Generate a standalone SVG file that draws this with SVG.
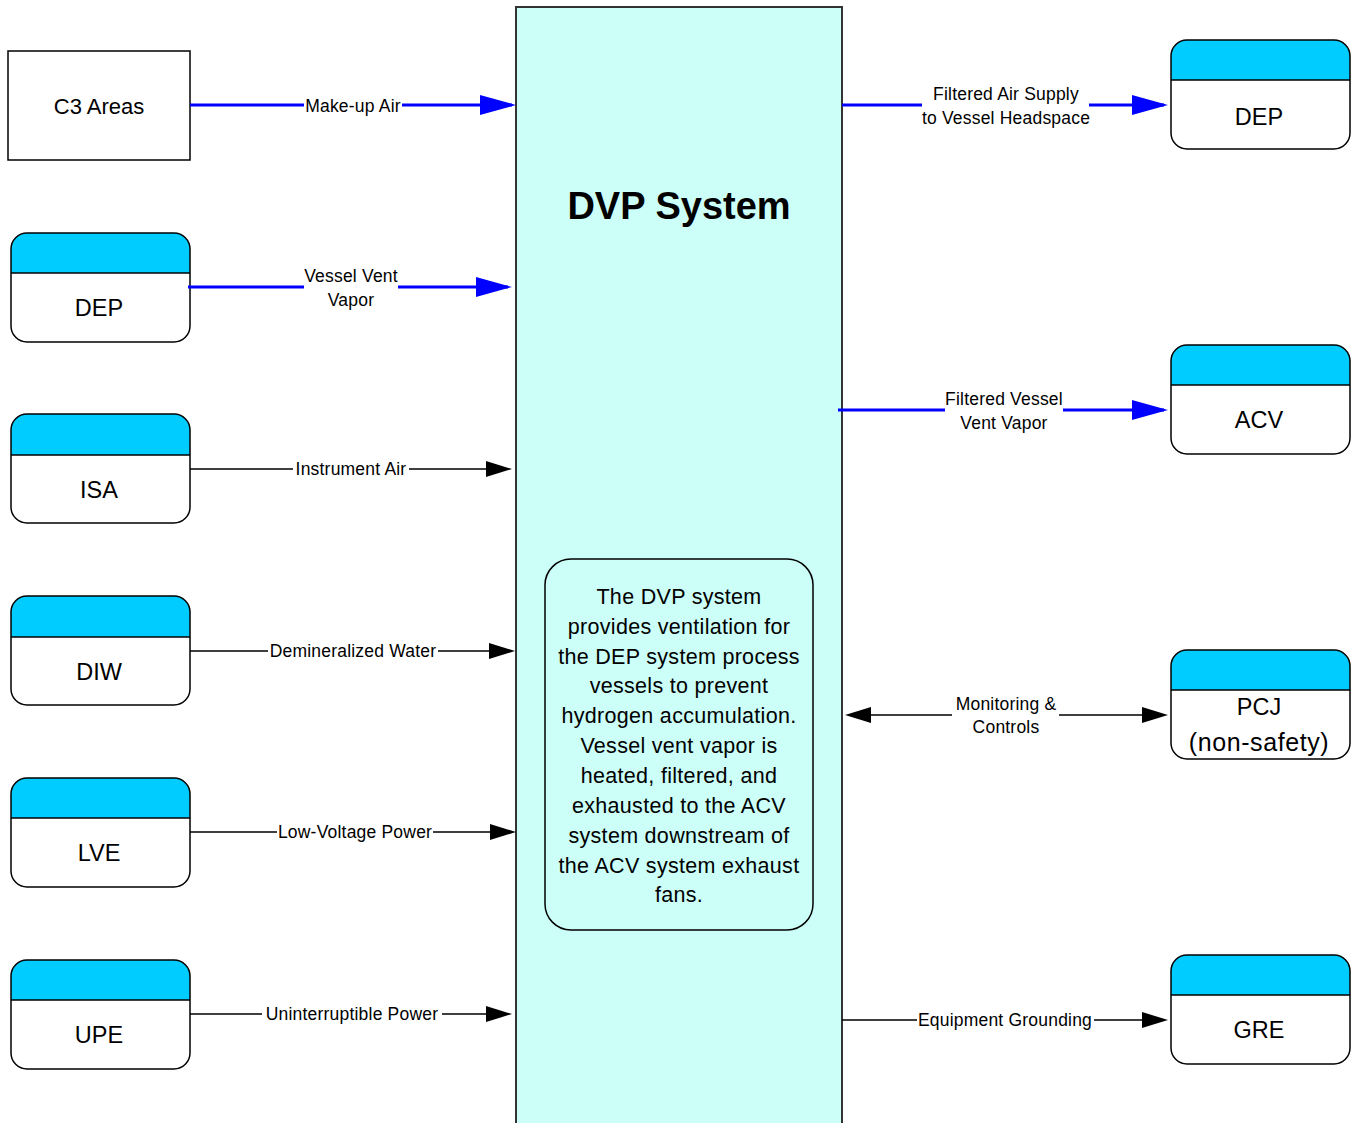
<svg xmlns="http://www.w3.org/2000/svg" width="1355" height="1123" viewBox="0 0 1355 1123">
  <style>
    .bg { fill: #ffffff; }
    .sys { fill: #ccfff7; stroke: #333333; stroke-width: 2; }
    .desc { fill: #ccfff7; stroke: #000000; stroke-width: 1.5; }
    .body { fill: #ffffff; }
    .head { fill: #00ccff; }
    .outline { fill: none; stroke: #000000; stroke-width: 1.5; }
    .plain { fill: #ffffff; stroke: #000000; stroke-width: 1.5; }
    .name { font-family: "Liberation Sans", Arial, sans-serif; font-size: 23.5px; fill: #000000; text-anchor: middle; }
    .title { font-family: "Liberation Sans", Arial, sans-serif; font-size: 38px; font-weight: bold; fill: #000000; text-anchor: middle; }
    .note { font-family: "Liberation Sans", Arial, sans-serif; font-size: 21.5px; letter-spacing: 0.3px; fill: #000000; text-anchor: middle; }
    .lbl { font-family: "Liberation Sans", Arial, sans-serif; font-size: 17.5px; letter-spacing: 0.2px; fill: #000000; text-anchor: middle; }
    .flow { fill: none; stroke: #0000ff; stroke-width: 3; marker-end: url(#blueHead); }
    .sig { fill: none; stroke: #000000; stroke-width: 1.5; marker-end: url(#blackHead); }
    .sig2 { fill: none; stroke: #000000; stroke-width: 1.5; marker-start: url(#blackHead); marker-end: url(#blackHead); }
  </style>
  <defs>
    <marker id="blueHead" markerUnits="userSpaceOnUse" markerWidth="36" markerHeight="20" refX="32" refY="10" orient="auto-start-reverse">
      <path d="M0,0 L36,10 L0,20 Z" fill="#0000ff"/>
    </marker>
    <marker id="blackHead" markerUnits="userSpaceOnUse" markerWidth="26" markerHeight="16" refX="23" refY="8" orient="auto-start-reverse">
      <path d="M0,0 L26,8 L0,16 Z" fill="#000000"/>
    </marker>
  </defs>

  <rect class="bg" x="0" y="0" width="1355" height="1123"/>

  <!-- DVP system block -->
  <g id="dvp-system">
    <rect class="sys" x="516" y="7" width="326" height="1130"/>
    <text class="title" x="679" y="219">DVP System</text>
  </g>

  <!-- description panel -->
  <g id="dvp-description">
    <rect class="desc" x="545" y="559" width="268" height="371" rx="26" ry="26"/>
    <text class="note" x="679" y="604">The DVP system</text>
    <text class="note" x="679" y="634">provides ventilation for</text>
    <text class="note" x="679" y="664">the DEP system process</text>
    <text class="note" x="679" y="693">vessels to prevent</text>
    <text class="note" x="679" y="723">hydrogen accumulation.</text>
    <text class="note" x="679" y="753">Vessel vent vapor is</text>
    <text class="note" x="679" y="783">heated, filtered, and</text>
    <text class="note" x="679" y="813">exhausted to the ACV</text>
    <text class="note" x="679" y="843">system downstream of</text>
    <text class="note" x="679" y="873">the ACV system exhaust</text>
    <text class="note" x="679" y="902">fans.</text>
  </g>

  <!-- C3 Areas -->
  <g id="c3-areas">
    <rect class="plain" x="8" y="51" width="182" height="109"/>
    <text class="name" x="99" y="114" style="font-size:22px">C3 Areas</text>
  </g>

  <!-- interfacing systems, left -->
  <g id="dep-left">
    <rect class="body" x="11" y="233" width="179" height="109" rx="16"/>
    <path class="head" d="M11,273 V249 A16,16 0 0 1 27,233 H174 A16,16 0 0 1 190,249 V273 Z"/>
    <rect class="outline" x="11" y="233" width="179" height="109" rx="16"/>
    <line class="outline" x1="11" y1="273" x2="190" y2="273"/>
    <text class="name" x="99" y="316">DEP</text>
  </g>
  <g id="isa">
    <rect class="body" x="11" y="414" width="179" height="109" rx="16"/>
    <path class="head" d="M11,455 V430 A16,16 0 0 1 27,414 H174 A16,16 0 0 1 190,430 V455 Z"/>
    <rect class="outline" x="11" y="414" width="179" height="109" rx="16"/>
    <line class="outline" x1="11" y1="455" x2="190" y2="455"/>
    <text class="name" x="99" y="498">ISA</text>
  </g>
  <g id="diw">
    <rect class="body" x="11" y="596" width="179" height="109" rx="16"/>
    <path class="head" d="M11,637 V612 A16,16 0 0 1 27,596 H174 A16,16 0 0 1 190,612 V637 Z"/>
    <rect class="outline" x="11" y="596" width="179" height="109" rx="16"/>
    <line class="outline" x1="11" y1="637" x2="190" y2="637"/>
    <text class="name" x="99" y="680">DIW</text>
  </g>
  <g id="lve">
    <rect class="body" x="11" y="778" width="179" height="109" rx="16"/>
    <path class="head" d="M11,818 V794 A16,16 0 0 1 27,778 H174 A16,16 0 0 1 190,794 V818 Z"/>
    <rect class="outline" x="11" y="778" width="179" height="109" rx="16"/>
    <line class="outline" x1="11" y1="818" x2="190" y2="818"/>
    <text class="name" x="99" y="861">LVE</text>
  </g>
  <g id="upe">
    <rect class="body" x="11" y="960" width="179" height="109" rx="16"/>
    <path class="head" d="M11,1000 V976 A16,16 0 0 1 27,960 H174 A16,16 0 0 1 190,976 V1000 Z"/>
    <rect class="outline" x="11" y="960" width="179" height="109" rx="16"/>
    <line class="outline" x1="11" y1="1000" x2="190" y2="1000"/>
    <text class="name" x="99" y="1043">UPE</text>
  </g>

  <!-- interfacing systems, right -->
  <g id="dep-right">
    <rect class="body" x="1171" y="40" width="179" height="109" rx="16"/>
    <path class="head" d="M1171,80 V56 A16,16 0 0 1 1187,40 H1334 A16,16 0 0 1 1350,56 V80 Z"/>
    <rect class="outline" x="1171" y="40" width="179" height="109" rx="16"/>
    <line class="outline" x1="1171" y1="80" x2="1350" y2="80"/>
    <text class="name" x="1259" y="125">DEP</text>
  </g>
  <g id="acv">
    <rect class="body" x="1171" y="345" width="179" height="109" rx="16"/>
    <path class="head" d="M1171,385 V361 A16,16 0 0 1 1187,345 H1334 A16,16 0 0 1 1350,361 V385 Z"/>
    <rect class="outline" x="1171" y="345" width="179" height="109" rx="16"/>
    <line class="outline" x1="1171" y1="385" x2="1350" y2="385"/>
    <text class="name" x="1259" y="428">ACV</text>
  </g>
  <g id="pcj">
    <rect class="body" x="1171" y="650" width="179" height="109" rx="16"/>
    <path class="head" d="M1171,690 V666 A16,16 0 0 1 1187,650 H1334 A16,16 0 0 1 1350,666 V690 Z"/>
    <rect class="outline" x="1171" y="650" width="179" height="109" rx="16"/>
    <line class="outline" x1="1171" y1="690" x2="1350" y2="690"/>
    <text class="name" x="1259" y="715">PCJ</text>
    <text class="name" x="1259" y="751" style="font-size:25px;letter-spacing:0.6px">(non-safety)</text>
  </g>
  <g id="gre">
    <rect class="body" x="1171" y="955" width="179" height="109" rx="16"/>
    <path class="head" d="M1171,995 V971 A16,16 0 0 1 1187,955 H1334 A16,16 0 0 1 1350,971 V995 Z"/>
    <rect class="outline" x="1171" y="955" width="179" height="109" rx="16"/>
    <line class="outline" x1="1171" y1="995" x2="1350" y2="995"/>
    <text class="name" x="1259" y="1038">GRE</text>
  </g>

  <!-- connectors -->
  <g id="connectors">
    <path class="flow" d="M190,105 H304 M402,105 H512"/>
    <text class="lbl" x="353" y="112">Make-up Air</text>

    <path class="flow" d="M188,287 H304 M398,287 H508"/>
    <text class="lbl" x="351" y="282">Vessel Vent</text>
    <text class="lbl" x="351" y="306">Vapor</text>

    <path class="sig" d="M190,469 H293 M409,469 H509"/>
    <text class="lbl" x="351" y="475">Instrument Air</text>

    <path class="sig" d="M190,651 H268 M438,651 H512"/>
    <text class="lbl" x="353" y="657">Demineralized Water</text>

    <path class="sig" d="M190,832 H277 M433,832 H513"/>
    <text class="lbl" x="355" y="838">Low-Voltage Power</text>

    <path class="sig" d="M190,1014 H262 M442,1014 H509"/>
    <text class="lbl" x="352" y="1020">Uninterruptible Power</text>

    <path class="flow" d="M842,105 H922 M1089,105 H1164"/>
    <text class="lbl" x="1006" y="100">Filtered Air Supply</text>
    <text class="lbl" x="1006" y="124">to Vessel Headspace</text>

    <path class="flow" d="M838,410 H945 M1063,410 H1164"/>
    <text class="lbl" x="1004" y="405">Filtered Vessel</text>
    <text class="lbl" x="1004" y="429">Vent Vapor</text>

    <path class="sig2" d="M848,715 H952 M1059,715 H1165"/>
    <text class="lbl" x="1006" y="710">Monitoring &amp;</text>
    <text class="lbl" x="1006" y="733">Controls</text>

    <path class="sig" d="M842,1020 H917 M1094,1020 H1165"/>
    <text class="lbl" x="1005" y="1026">Equipment Grounding</text>
  </g>
</svg>
